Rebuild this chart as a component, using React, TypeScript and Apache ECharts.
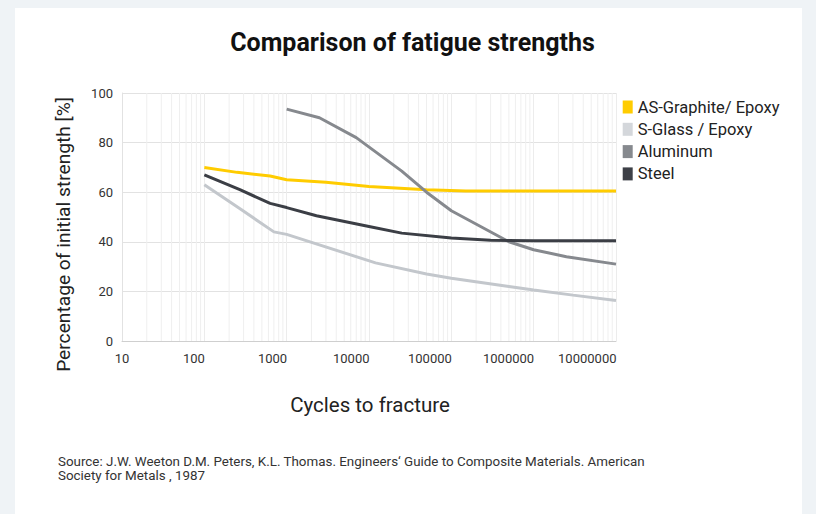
import React, { useEffect, useRef } from 'react';
import * as echarts from 'echarts';

const TITLE = 'Comparison of fatigue strengths';
const X_NAME = 'Cycles to fracture';
const Y_NAME = 'Percentage of initial strength [%]';
const SOURCE_LINES = [
  'Source: J.W. Weeton D.M. Peters, K.L. Thomas. Engineers‘ Guide to Composite Materials. American',
  'Society for Metals , 1987',
];

const SERIES_NAMES = ['AS-Graphite/ Epoxy', 'S-Glass / Epoxy', 'Aluminum', 'Steel'];
const LINE_COLORS = ['#ffcc00', '#c3c7cc', '#86898e', '#3b3e45'];
const LEGEND_COLORS = ['#ffcc00', '#d4d7db', '#86898e', '#3d4047'];

const AS_GRAPHITE = [[100, 70], [250, 68], [630, 66.5], [1000, 65], [3000, 64], [10000, 62.3], [50000, 61], [150000, 60.5], [1000000, 60.5], [10000000, 60.5]];
const S_GLASS = [[100, 63], [280, 53], [700, 44], [1000, 43], [12000, 31.5], [50000, 27], [100000, 25.3], [500000, 22], [1000000, 20.6], [3000000, 18.5], [10000000, 16.3]];
const ALUMINUM = [[1000, 93.5], [2500, 90], [7000, 82], [25000, 68.5], [50000, 60], [100000, 52.5], [500000, 40], [1000000, 36.8], [2500000, 34], [10000000, 31]];
const STEEL = [[100, 67], [270, 61], [630, 55.5], [1000, 53.8], [2300, 50.5], [10000, 46.2], [25000, 43.5], [100000, 41.5], [300000, 40.6], [1000000, 40.4], [10000000, 40.4]];
const SERIES_DATA = [AS_GRAPHITE, S_GLASS, ALUMINUM, STEEL];

const X_MIN = 10;
const X_MAX = 10000000;
const Y_MIN = 0;
const Y_MAX = 100;
const Y_STEP = 20;
const MINOR_MULTIPLIERS = [2, 3, 4, 5, 6, 7, 8, 9];
const DECADES = [10, 100, 1000, 10000, 100000, 1000000];

export default function App() {
  const ref = useRef<HTMLDivElement>(null);
  useEffect(() => {
    if (!ref.current) return;
    const chart = echarts.init(ref.current, null, { renderer: 'svg' });
    const minorData: number[][] = [];
    DECADES.forEach((d) => MINOR_MULTIPLIERS.forEach((m) => minorData.push([d * m, Y_MIN])));
    const digitW = 7.31;
    const rich: any = {
      first: { fontSize: 13, color: '#333', fontFamily: 'Roboto' },
    };
    for (let n = 2; n <= 9; n++) {
      rich['d' + n] = { fontSize: 13, color: '#333', fontFamily: 'Roboto', padding: [0, n * digitW - 1, 0, 0] };
    }
    const option: any = {
      animation: false,
      textStyle: { fontFamily: 'Roboto' },
      grid: { left: 122, right: 200, top: 93, bottom: 173, containLabel: false },
      legend: {
        data: SERIES_NAMES,
        orient: 'vertical',
        left: 622.7,
        top: 98.5,
        padding: 0,
        icon: 'rect',
        itemWidth: 10,
        itemHeight: 13,
        itemGap: 5.3,
        textStyle: { fontSize: 16.5, color: '#222', fontFamily: 'Roboto' },
      },
      xAxis: {
        type: 'log',
        logBase: 10,
        min: X_MIN,
        max: X_MAX,
        axisLine: { show: true, lineStyle: { color: '#cfcfcf', width: 1 } },
        axisTick: { show: false },
        splitLine: { show: true, lineStyle: { color: '#ececec', width: 1 } },
        axisLabel: {
          margin: 11,
          align: 'center',
          fontSize: 13,
          color: '#333',
          formatter: (v: number) => {
            const s = String(Math.round(v));
            if (Math.round(v) === X_MIN) return '{first|' + s + '}';
            return '{d' + s.length + '|' + s + '}';
          },
          rich,
        },
      },
      yAxis: {
        type: 'value',
        min: Y_MIN,
        max: Y_MAX,
        interval: Y_STEP,
        axisLine: { show: true, lineStyle: { color: '#e2e2e2' } },
        axisTick: { show: false },
        splitLine: { show: true, lineStyle: { color: '#e2e2e2', width: 1 } },
        axisLabel: { margin: 9, fontSize: 13, color: '#333' },
      },
      graphic: [
        {
          type: 'text',
          x: 412.5,
          y: 42,
          style: { text: TITLE, fontSize: 25, fontWeight: 'bold', fill: '#111', fontFamily: 'Roboto', textAlign: 'center', textVerticalAlign: 'middle' },
        },
        {
          type: 'text',
          x: 370,
          y: 405,
          style: { text: X_NAME, fontSize: 20.5, fill: '#222', fontFamily: 'Roboto', textAlign: 'center', textVerticalAlign: 'middle' },
        },
        {
          type: 'text',
          x: 63,
          y: 234.5,
          rotation: Math.PI / 2,
          style: { text: Y_NAME, fontSize: 19.2, fill: '#222', fontFamily: 'Roboto', textAlign: 'center', textVerticalAlign: 'middle' },
        },
        {
          type: 'text',
          x: 58,
          y: 461.5,
          scaleX: 1.03,
          style: { text: SOURCE_LINES[0], fontSize: 13, fill: '#333', fontFamily: 'Roboto', textAlign: 'left', textVerticalAlign: 'middle' },
        },
        {
          type: 'text',
          x: 58,
          y: 475.5,
          scaleX: 1.03,
          style: { text: SOURCE_LINES[1], fontSize: 13, fill: '#333', fontFamily: 'Roboto', textAlign: 'left', textVerticalAlign: 'middle' },
        },
      ],
      series: [
        {
          name: '_minorGrid',
          type: 'custom',
          silent: true,
          z: 1,
          encode: { x: 0, y: 1 },
          data: minorData,
          renderItem: (_params: any, api: any) => {
            const top = api.coord([api.value(0), Y_MAX]);
            const bottom = api.coord([api.value(0), Y_MIN]);
            return {
              type: 'line',
              shape: { x1: top[0], y1: top[1], x2: bottom[0], y2: bottom[1] },
              style: { stroke: '#efefef', lineWidth: 1 },
            };
          },
        },
        ...SERIES_NAMES.map((name, i) => ({
          name,
          type: 'line',
          data: SERIES_DATA[i],
          showSymbol: false,
          symbol: 'none',
          z: 3,
          lineStyle: { color: LINE_COLORS[i], width: 3 },
          itemStyle: { color: LEGEND_COLORS[i] },
        })),
      ],
    };
    chart.setOption(option);
    return () => chart.dispose();
  }, []);
  return (
    <div style={{ position: 'fixed', left: 0, top: 0, width: 816, height: 514, background: '#eff3f6' }}>
      <div style={{ position: 'absolute', left: 15, top: 8, width: 787, height: 506, background: '#ffffff' }} />
      <div ref={ref} style={{ position: 'absolute', left: 0, top: 0, width: 816, height: 514 }} />
    </div>
  );
}
